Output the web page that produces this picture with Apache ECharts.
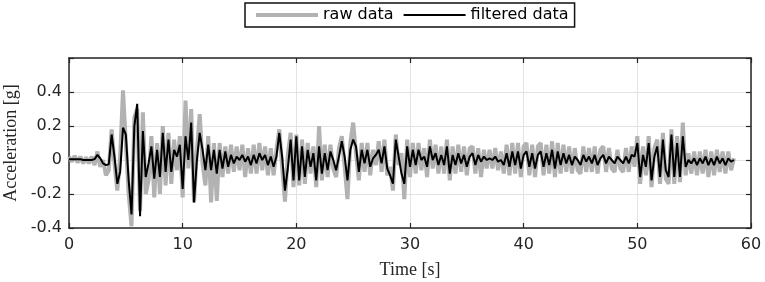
<!DOCTYPE html>
<html><head><meta charset="utf-8">
<script src="https://cdn.jsdelivr.net/npm/echarts@6/dist/echarts.min.js"></script>
<style>html,body{margin:0;padding:0;background:#fff}#c{width:765px;height:282px}</style>
</head><body><div id="c"></div>
<script>
// sampling interval of both records (seconds)
const sampleStep = 0.25;

// raw acceleration record [g], one value every 0.25 s from t = 0 s
const rawData = [
  0.02, -0.01, 0.025, -0.015,
  0.02, -0.02, 0.015, -0.02,
  0.02, -0.03, 0.05, -0.04,
  0.0, -0.09, -0.06, 0.18,
  -0.02, -0.18, 0.02, 0.41,
  0.1, -0.2, -0.39, 0.25,
  0.3, -0.3, 0.28, -0.2,
  -0.12, 0.14, -0.22, 0.1,
  -0.2, 0.2, -0.15, 0.16,
  -0.14, 0.12, -0.06, 0.14,
  -0.22, 0.35, -0.05, 0.3,
  -0.25, 0.05, 0.27, -0.02,
  -0.15, 0.14, -0.25, 0.1,
  -0.24, 0.1, -0.1, 0.08,
  -0.08, 0.09, -0.07, 0.08,
  -0.06, 0.09, -0.1, 0.07,
  -0.08, 0.09, -0.08, 0.1,
  -0.06, 0.08, -0.09, 0.07,
  -0.09, 0.06, 0.18, -0.04,
  -0.245, 0.03, 0.16, -0.16,
  0.15, -0.15, 0.12, -0.14,
  0.1, -0.08, 0.08, -0.16,
  0.2, -0.12, 0.09, -0.1,
  0.09, -0.05, -0.1, 0.07,
  0.14, -0.04, -0.23, 0.1,
  0.22, 0.04, -0.12, 0.1,
  -0.07, 0.1, -0.09, 0.06,
  -0.03, 0.11, -0.07, 0.12,
  -0.09, -0.04, -0.18, 0.15,
  -0.03, 0.04, -0.23, 0.12,
  -0.1, 0.1, -0.08, 0.1,
  -0.06, 0.07, -0.1, 0.12,
  -0.05, 0.09, -0.08, 0.08,
  -0.08, 0.12, -0.12, 0.08,
  -0.08, 0.09, -0.07, 0.08,
  -0.09, 0.07, 0.08, -0.08,
  0.07, -0.1, 0.06, -0.05,
  0.06, -0.05, 0.07, -0.06,
  0.05, -0.08, 0.09, -0.09,
  0.1, -0.08, 0.1, -0.1,
  0.08, 0.1, -0.09, 0.09,
  -0.1, 0.08, 0.1, -0.09,
  0.09, -0.08, 0.11, -0.1,
  0.1, -0.08, 0.09, -0.07,
  0.08, -0.08, 0.07, -0.06,
  -0.08, 0.08, -0.07, 0.07,
  -0.07, 0.08, -0.08, 0.06,
  0.08, -0.07, 0.07, -0.05,
  -0.07, 0.06, -0.05, -0.07,
  0.07, -0.07, 0.08, -0.04,
  0.14, -0.14, 0.08, -0.09,
  0.14, -0.16, 0.07, 0.12,
  -0.14, 0.16, -0.11, -0.14,
  0.18, -0.14, 0.14, -0.13,
  0.22, -0.09, 0.04, -0.08,
  0.05, -0.09, 0.05, -0.08,
  0.06, -0.1, 0.05, -0.09,
  0.06, -0.07, 0.05, -0.08,
  0.05, -0.06, 0.01
];

// filtered acceleration record [g], same sampling
const filteredData = [
  0.005, 0.005, 0.005, 0.005,
  0.005, 0.0, 0.0, 0.0,
  0.0, 0.005, 0.03, 0.01,
  -0.02, -0.03, -0.025, 0.15,
  0.02, -0.14, -0.07, 0.19,
  0.15, -0.12, -0.32, 0.2,
  0.33, -0.33, 0.17, -0.1,
  -0.02, 0.08, -0.11, 0.06,
  -0.1, 0.16, -0.07, 0.12,
  -0.07, 0.06, 0.02, 0.09,
  -0.17, 0.14, 0.0, 0.22,
  -0.25, 0.0, 0.16, 0.06,
  -0.06, 0.09, -0.06, 0.06,
  -0.08, 0.06, -0.05, 0.05,
  -0.04, 0.03, -0.02, 0.02,
  0.0, 0.03, -0.01, 0.02,
  -0.03, 0.03, -0.02, 0.04,
  0.0, 0.03, -0.03, 0.02,
  -0.04, 0.02, 0.16, 0.02,
  -0.18, -0.05, 0.12, -0.12,
  0.14, -0.12, 0.08, -0.1,
  0.06, -0.04, 0.04, -0.12,
  0.08, -0.08, 0.04, -0.06,
  0.05, 0.0, -0.06, 0.02,
  0.11, 0.02, -0.12, 0.06,
  0.12, 0.08, -0.07, 0.06,
  -0.02, 0.06, -0.04, 0.01,
  0.03, 0.06, -0.02, 0.08,
  -0.05, -0.09, -0.14, 0.12,
  0.02, -0.08, -0.14, 0.08,
  -0.04, 0.06, -0.03, 0.06,
  0.0, 0.02, -0.04, 0.08,
  0.0, 0.04, -0.03, 0.03,
  -0.03, 0.08, -0.08, 0.03,
  -0.03, 0.04, -0.02, 0.03,
  -0.04, 0.02, 0.04, -0.03,
  0.03, -0.01, 0.02, 0.0,
  0.01, 0.0, 0.02, -0.01,
  0.0, -0.03, 0.04, -0.04,
  0.05, -0.03, 0.05, -0.05,
  0.03, 0.05, -0.04, 0.04,
  -0.05, 0.03, 0.05, -0.04,
  0.04, -0.03, 0.06, -0.05,
  0.05, -0.03, 0.04, -0.02,
  0.03, -0.03, 0.02, 0.0,
  -0.03, 0.03, -0.01, 0.02,
  -0.02, 0.03, -0.03, 0.01,
  0.03, -0.02, 0.02, 0.0,
  -0.02, 0.02, 0.0, -0.02,
  0.02, -0.02, 0.03, 0.02,
  0.1, -0.1, 0.03, -0.04,
  0.1, -0.12, 0.02, 0.08,
  -0.1, 0.12, -0.06, -0.1,
  0.15, -0.1, 0.1, -0.1,
  0.14, -0.04, 0.0, -0.02,
  0.01, -0.03, 0.01, -0.02,
  0.02, -0.03, 0.01, -0.03,
  0.02, -0.02, 0.01, -0.03,
  0.01, -0.01, 0.0
];

const seriesNames = ['raw data', 'filtered data'];
const xTickLabels = ['0', '10', '20', '30', '40', '50', '60'];
const yTickLabels = ['-0.4', '-0.2', '0', '0.2', '0.4'];

const sans = 'DejaVu Sans';
const serif = 'Liberation Serif';
const ink = '#262626';
const rawColor = '#b2b2b2';

function toPairs(arr) { return arr.map((v, i) => [i * sampleStep, v]); }
function fmtY(v) {
  const s = String(Math.round(v * 10) / 10);
  return yTickLabels.indexOf(s) >= 0 ? s : '';
}
function fmtX(v) {
  const s = String(Math.round(v));
  return xTickLabels.indexOf(s) >= 0 ? s : '';
}

const boxAxisCommon = {
  type: 'value',
  axisLine: { show: true, onZero: false, lineStyle: { color: ink, width: 1.5 } },
  axisTick: { show: true, inside: true, length: 5, lineStyle: { color: ink, width: 1.2 } },
};

const chart = echarts.init(document.getElementById('c'), null, { renderer: 'canvas' });
chart.setOption({
  animation: false,
  backgroundColor: '#fff',
  grid: { left: 69, right: 14, top: 58, bottom: 54, containLabel: false, outerBoundsMode: 'none' },
  legend: {
    data: [
      { name: seriesNames[0], icon: 'path://M0,0L60,0L60,4L0,4Z', itemStyle: { color: rawColor, borderWidth: 0 } },
      { name: seriesNames[1], icon: 'path://M0,0L60,0L60,2L0,2Z', itemStyle: { color: '#000', borderWidth: 0 } }
    ],
    left: 245, top: 3,
    padding: [4, 6, 4, 11],
    borderColor: '#111', borderWidth: 1.5,
    itemWidth: 62, itemHeight: 14, itemGap: 10,
    textStyle: { fontFamily: sans, fontSize: 16, color: '#000' }
  },
  xAxis: [
    Object.assign({}, boxAxisCommon, {
      position: 'bottom', min: 0, max: 60, interval: 10,
      name: 'Time [s]', nameLocation: 'middle', nameGap: 33,
      nameTextStyle: { fontFamily: serif, fontSize: 18, color: ink },
      axisLabel: { show: true, margin: 9, fontFamily: sans, fontSize: 16, color: ink, formatter: fmtX },
      splitLine: { show: true, lineStyle: { color: '#e3e3e3', width: 1 } }
    }),
    Object.assign({}, boxAxisCommon, {
      position: 'top', min: 0, max: 60, interval: 10,
      axisLabel: { show: false }, splitLine: { show: false }
    })
  ],
  yAxis: [
    Object.assign({}, boxAxisCommon, {
      position: 'left', min: -0.4, max: 0.6, interval: 0.2,
      name: 'Acceleration [g]', nameLocation: 'middle', nameGap: 47,
      nameTextStyle: { fontFamily: serif, fontSize: 18, color: ink },
      axisLabel: { show: true, margin: 7, fontFamily: sans, fontSize: 16, color: ink, formatter: fmtY },
      splitLine: { show: true, lineStyle: { color: '#e3e3e3', width: 1 } }
    }),
    Object.assign({}, boxAxisCommon, {
      position: 'right', min: -0.4, max: 0.6, interval: 0.2,
      axisLabel: { show: false }, splitLine: { show: false }
    })
  ],
  series: [
    {
      name: seriesNames[0], type: 'line', data: toPairs(rawData),
      xAxisIndex: 0, yAxisIndex: 0,
      symbol: 'none', showSymbol: false, silent: true,
      lineStyle: { color: rawColor, width: 4 }, itemStyle: { color: rawColor }
    },
    {
      name: seriesNames[1], type: 'line', data: toPairs(filteredData),
      xAxisIndex: 0, yAxisIndex: 0,
      symbol: 'none', showSymbol: false, silent: true,
      lineStyle: { color: '#000', width: 2 }, itemStyle: { color: '#000' }
    }
  ]
});
</script>
</body></html>
